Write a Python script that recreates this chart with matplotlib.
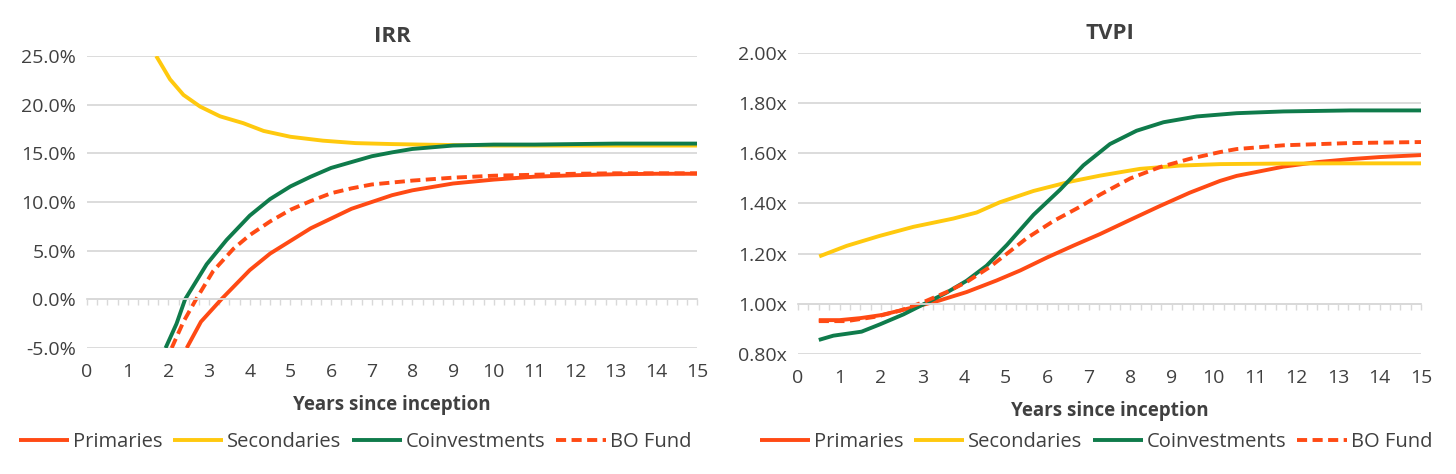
import numpy as np
import matplotlib
matplotlib.use("Agg")
import matplotlib.pyplot as plt
from matplotlib.ticker import FuncFormatter, MultipleLocator

plt.rcParams['font.family'] = ['Open Sans', 'DejaVu Sans']

# -------------------------------
# DATA
# -------------------------------
# IRR (%)
irr_prim_x = [2.45, 2.8, 3.3, 4.0, 4.5, 5, 5.5, 6, 6.5, 7, 7.5, 8, 9, 10, 11, 12, 13, 14, 15]
irr_prim_y = [-5.0, -2.3, 0.0, 3.0, 4.7, 6.0, 7.3, 8.3, 9.3, 10.0, 10.7, 11.2, 11.9, 12.3, 12.6, 12.75, 12.85, 12.9, 12.9]
irr_sec_x = [1.70, 2.04, 2.37, 2.78, 3.27, 3.84, 4.34, 5, 5.8, 6.6, 7.5, 8.2, 9, 10, 11, 12, 13, 14, 15]
irr_sec_y = [25.0, 22.6, 21.0, 19.8, 18.8, 18.1, 17.3, 16.7, 16.3, 16.05, 15.95, 15.9, 15.85, 15.8, 15.8, 15.8, 15.8, 15.8, 15.8]
irr_coi_x = [1.93, 2.2, 2.41, 2.94, 3.43, 4.0, 4.5, 5, 5.5, 6, 6.5, 7, 7.5, 8, 9, 10, 11, 12, 13, 14, 15]
irr_coi_y = [-5.0, -2.5, 0.0, 3.6, 6.1, 8.6, 10.3, 11.6, 12.6, 13.5, 14.1, 14.7, 15.1, 15.45, 15.8, 15.9, 15.9, 15.95, 16.0, 16.0, 16.0]
irr_bo_x = [2.08, 2.37, 2.68, 3.1, 3.6, 4.0, 4.5, 5, 5.5, 6, 6.5, 7, 8, 9, 10, 11, 12, 13, 14, 15]
irr_bo_y = [-5.0, -2.3, 0.0, 2.9, 5.2, 6.6, 8.0, 9.2, 10.1, 10.9, 11.4, 11.8, 12.2, 12.5, 12.7, 12.8, 12.9, 12.95, 12.95, 12.95]

# TVPI (x)
tv_prim_x = [0.5, 1.0, 1.5, 2.0, 2.8, 3.4, 4.06, 4.78, 5.35, 6.0, 6.63, 7.27, 8.0, 8.7, 9.43, 10.16, 10.56, 11.69, 12.5, 13.3, 14, 15]
tv_prim_y = [0.935, 0.935, 0.943, 0.955, 0.987, 1.013, 1.047, 1.093, 1.133, 1.185, 1.232, 1.278, 1.335, 1.389, 1.443, 1.49, 1.51, 1.547, 1.565, 1.577, 1.585, 1.593]
tv_sec_x = [0.51, 1.17, 1.97, 2.78, 3.74, 4.3, 4.86, 5.67, 6.55, 7.27, 8.23, 9.19, 10.16, 11.5, 13, 15]
tv_sec_y = [1.189, 1.231, 1.271, 1.307, 1.34, 1.364, 1.405, 1.45, 1.487, 1.511, 1.538, 1.551, 1.557, 1.559, 1.56, 1.56]
tv_coi_x = [0.5, 0.85, 1.53, 1.97, 2.54, 3.02, 3.58, 4.06, 4.54, 5.03, 5.67, 6.31, 6.87, 7.51, 8.15, 8.8, 9.6, 10.56, 11.69, 13.3, 15]
tv_coi_y = [0.856, 0.873, 0.889, 0.918, 0.958, 0.998, 1.045, 1.092, 1.152, 1.235, 1.355, 1.455, 1.552, 1.637, 1.69, 1.724, 1.747, 1.76, 1.767, 1.771, 1.771]
tv_bo_x = [0.5, 1.17, 1.89, 2.46, 3.02, 3.58, 4.06, 4.62, 5.03, 5.51, 6.15, 6.79, 7.27, 8.0, 8.71, 9.43, 10.16, 10.56, 11.69, 13.3, 15]
tv_bo_y = [0.931, 0.931, 0.949, 0.973, 1.007, 1.047, 1.087, 1.147, 1.20, 1.262, 1.33, 1.387, 1.435, 1.50, 1.545, 1.578, 1.605, 1.617, 1.632, 1.641, 1.645]

labels = ['Primaries', 'Secondaries', 'Coinvestments', 'BO Fund']

RED = '#FF4A14'
YELLOW = '#FFC90E'
GREEN = '#0F7B4B'
GRID = '#D9D9D9'
TXT = '#404040'
LW = 2.8
DASH = (0, (2.6, 1.4))


def style_axis(ax, ymin, ymax, ystep, ybase, fmt):
    ax.set_xlim(0, 15)
    ax.set_ylim(ymin, ymax)
    ax.yaxis.set_major_locator(MultipleLocator(ystep))
    ax.yaxis.set_major_formatter(FuncFormatter(fmt))
    ax.grid(axis='y', color=GRID, lw=1.3)
    ax.set_axisbelow(True)
    for s in ['top', 'right', 'left']:
        ax.spines[s].set_visible(False)
    # axis line crossing at ybase with quarterly ticks
    ax.spines['bottom'].set_position(('data', ybase))
    ax.spines['bottom'].set_color(GRID)
    ax.spines['bottom'].set_linewidth(1.3)
    ax.xaxis.set_major_locator(MultipleLocator(0.25))
    ax.tick_params(axis='x', length=4, width=1, color=GRID, labelbottom=False)
    ax.tick_params(axis='y', length=0, labelsize=14, labelcolor=TXT, pad=8)
    sec = ax.secondary_xaxis(0)
    sec.set_xticks(range(16))
    sec.tick_params(length=0, labelsize=14, labelcolor=TXT, pad=11)
    sec.spines['bottom'].set_visible(False)
    return sec


def draw(ax, series):
    for (x, y), lab in zip(series, labels):
        if lab == 'Primaries':
            ax.plot(x, y, color=RED, lw=LW, label=lab, solid_capstyle='butt')
        elif lab == 'Secondaries':
            ax.plot(x, y, color=YELLOW, lw=LW, label=lab, solid_capstyle='butt')
        elif lab == 'Coinvestments':
            ax.plot(x, y, color=GREEN, lw=LW, label=lab, solid_capstyle='butt')
        else:
            ax.plot(x, y, color=RED, lw=LW, ls=DASH, label=lab)


fig = plt.figure(figsize=(14.56, 4.74), dpi=100)
ax1 = fig.add_axes([0.0598, 0.2658, 0.419, 0.6161])
ax2 = fig.add_axes([0.5481, 0.2532, 0.4279, 0.6350])

# --- IRR ---
draw(ax1, [(irr_prim_x, irr_prim_y), (irr_sec_x, irr_sec_y),
           (irr_coi_x, irr_coi_y), (irr_bo_x, irr_bo_y)])
s1 = style_axis(ax1, -5, 25, 5, 0, lambda v, p: f'{v:.1f}%')
ax1.set_title('IRR', fontsize=16, fontweight='bold', color=TXT, pad=10)
s1.set_xlabel('Years since inception', fontsize=13.5, fontweight='bold', color=TXT, labelpad=10)

# --- TVPI ---
draw(ax2, [(tv_prim_x, tv_prim_y), (tv_sec_x, tv_sec_y),
           (tv_coi_x, tv_coi_y), (tv_bo_x, tv_bo_y)])
s2 = style_axis(ax2, 0.8, 2.0, 0.2, 1.0, lambda v, p: f'{v:.2f}x')
ax2.set_title('TVPI', fontsize=16, fontweight='bold', color=TXT, pad=10)
s2.set_xlabel('Years since inception', fontsize=13.5, fontweight='bold', color=TXT, labelpad=10)

for ax, cx in [(ax1, 0.244), (ax2, 0.753)]:
    h, l = ax.get_legend_handles_labels()
    fig.legend(h, l, loc='center', bbox_to_anchor=(cx, 0.0675), ncol=4, frameon=False,
               fontsize=14.5, handlelength=2.5, handletextpad=0.2, columnspacing=0.5,
               labelcolor=TXT)

fig.savefig('out.png', dpi=100, facecolor='white')
